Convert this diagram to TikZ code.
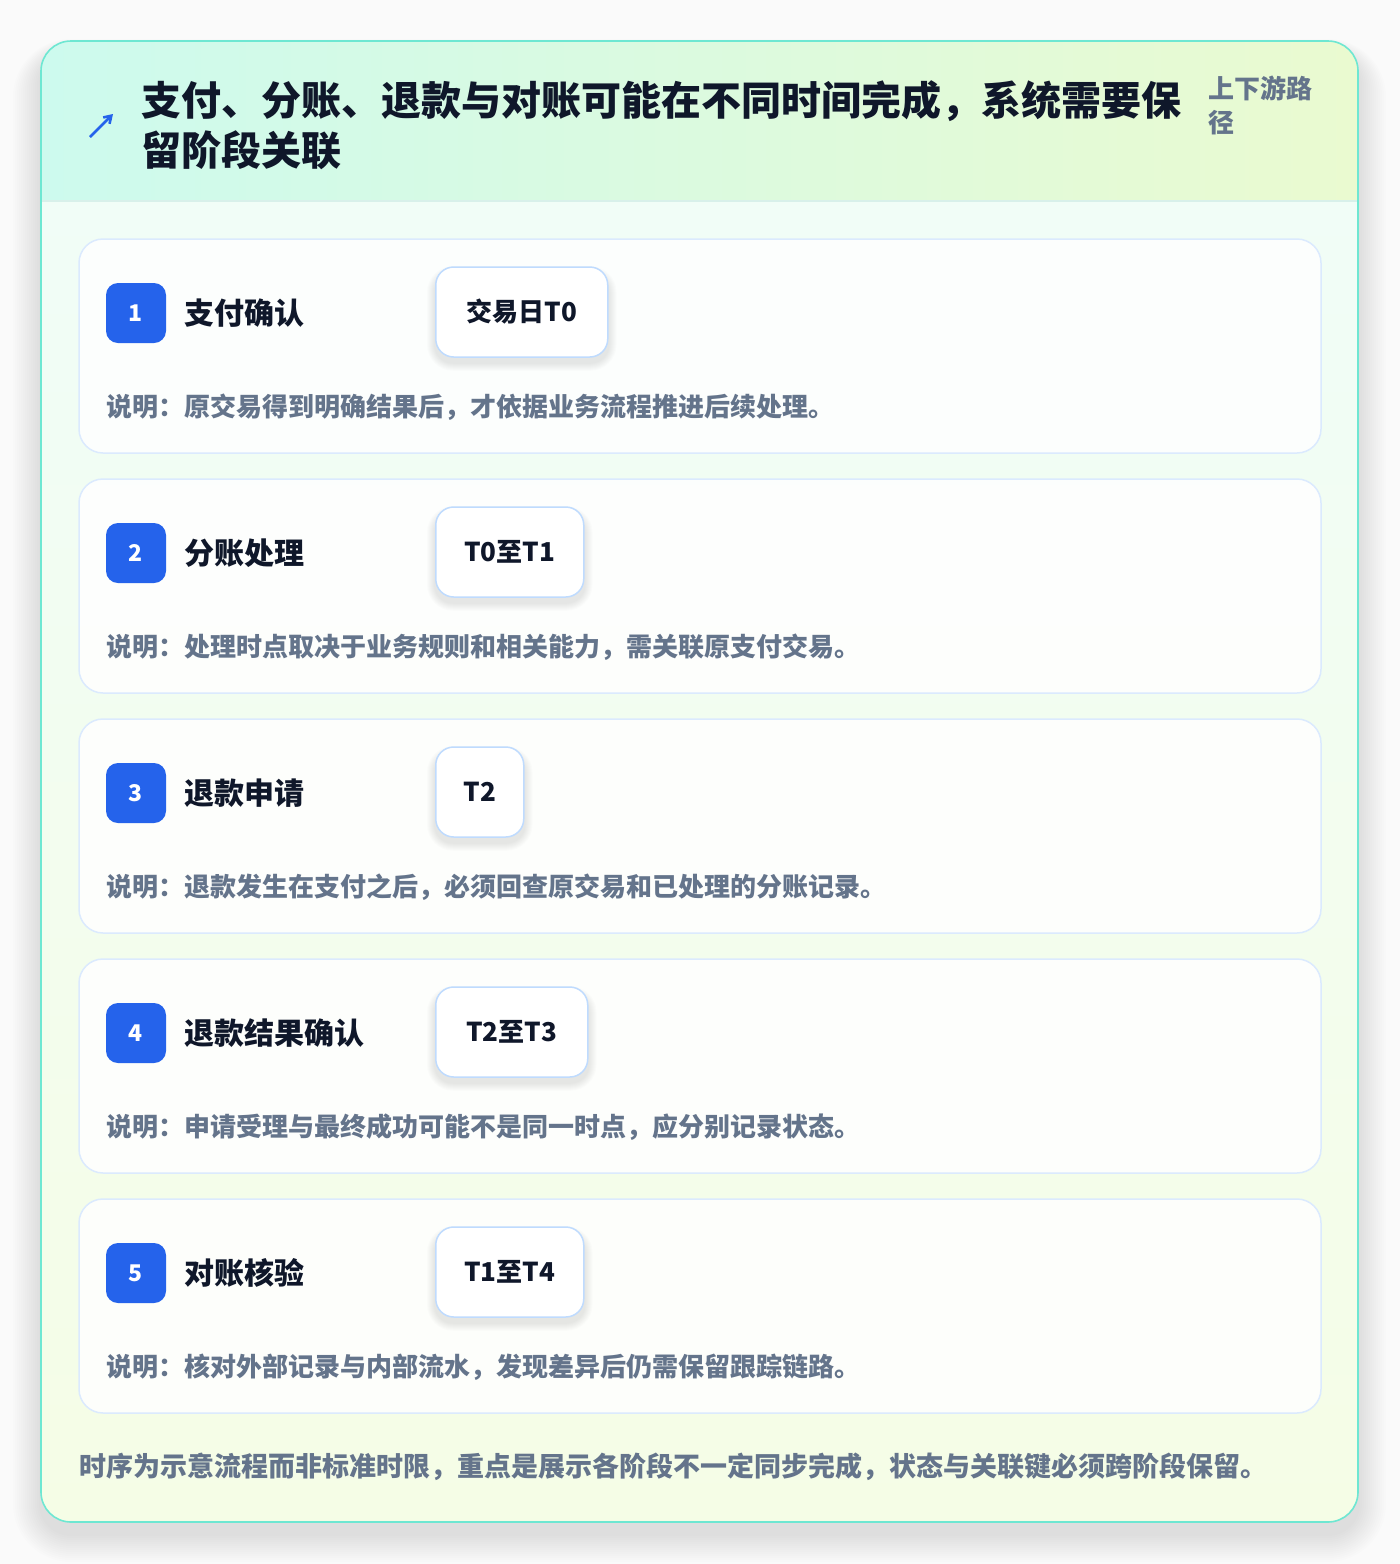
\documentclass[tikz,border=0pt]{standalone}
\usepackage{fontspec}
\setmainfont{Noto Sans CJK SC}
\usetikzlibrary{arrows.meta,calc}
\pgfdeclarelayer{front}
\pgfsetlayers{main,front}
\definecolor{pagebg}{HTML}{FAFAFA}
\definecolor{frameline}{HTML}{6EE7D2}
\definecolor{hdrL}{HTML}{CDFAEE}
\definecolor{hdrR}{HTML}{EAFAD0}
\definecolor{bodyT}{HTML}{F0FDF9}
\definecolor{bodyB}{HTML}{F5FDE6}
\definecolor{hdrsep}{HTML}{D8F0EA}
\definecolor{cardline}{HTML}{DBEAFE}
\definecolor{pillline}{HTML}{BFDBFE}
\definecolor{accent}{HTML}{2563EB}
\definecolor{ink}{HTML}{0F172A}
\definecolor{muted}{HTML}{64748B}
\tikzset{
  frame/.style={draw=frameline, line width=1.6pt, rounded corners=30pt, minimum width=1317pt, minimum height=1481pt, inner sep=0pt},
  card/.style={draw=cardline, line width=1.5pt, fill=white, fill opacity=0.85, rounded corners=24pt, minimum width=1242pt, minimum height=214pt, inner sep=0pt},
  badge/.style={fill=accent, rounded corners=12pt, minimum width=60pt, minimum height=60pt, inner sep=0pt, text=white, font=\fontsize{23}{26}\selectfont\bfseries},
  steptitle/.style={anchor=west, inner sep=0pt, text=ink, font=\fontsize{30}{36}\selectfont\bfseries},
  pill/.style={anchor=west, draw=pillline, line width=1.5pt, fill=white, rounded corners=18pt, minimum height=90pt, inner xsep=27pt, inner ysep=0pt, text=ink, font=\fontsize{26}{30}\selectfont\bfseries},
  desc/.style={anchor=west, inner sep=0pt, text=muted, font=\fontsize{26}{30}\selectfont\bfseries},
  softshadow/.style={fill=black, opacity=#1},
}
\begin{document}
\begin{tikzpicture}[x=1pt,y=-1pt]
\useasboundingbox (0,0) rectangle (1400,1564);
\fill[pagebg] (0,0) rectangle (1400,1564);
% frame shadow
\foreach \k in {1,...,14}{
  \fill[softshadow=0.007, rounded corners={(30+2*\k)*1pt}] (41-2*\k,41+12-1*\k) rectangle (1358+2*\k,1522+12+2*\k);
}
% frame fill
\shade[top color=bodyT, bottom color=bodyB, rounded corners=30pt] (41,41) rectangle (1358,1522);
\begin{scope}
  \clip[rounded corners=30pt] (41,41) rectangle (1358,1522);
  \shade[left color=hdrL, right color=hdrR] (41,41) rectangle (1358,201);
\end{scope}
\draw[hdrsep, line width=1.5pt] (41,201) -- (1358,201);
\node[frame] (frame) at (699.5,781.5) {};
% header
\coordinate (arrowS) at (90,137);
\coordinate (arrowE) at (113,114);
\draw[accent, line width=2.6pt, -{Straight Barb[length=7pt,width=9pt]}] (arrowS) -- (arrowE);
\node[anchor=north west, inner sep=0pt, align=left, text=ink, font=\fontsize{40}{50}\selectfont\bfseries] (title) at (141,80)
  {支付、分账、退款与对账可能在不同时间完成，系统需要保\\留阶段关联};
\node[anchor=north west, inner sep=0pt, align=left, text=muted, font=\fontsize{26}{34}\selectfont\bfseries] (route) at (1208,76)
  {上下游路\\径};
% cards
\foreach \i/\t/\p/\w/\d in {
  1/支付确认/交易日T0/172/说明：原交易得到明确结果后，才依据业务流程推进后续处理。,
  2/分账处理/T0至T1/148/说明：处理时点取决于业务规则和相关能力，需关联原支付交易。,
  3/退款申请/T2/88/说明：退款发生在支付之后，必须回查原交易和已处理的分账记录。,
  4/退款结果确认/T2至T3/152/说明：申请受理与最终成功可能不是同一时点，应分别记录状态。,
  5/对账核验/T1至T4/148/说明：核对外部记录与内部流水，发现差异后仍需保留跟踪链路。}{
  \pgfmathsetmacro{\top}{239+240*(\i-1)}
  \node[card] (card\i) at (700,\top+107) {};
  \node[badge] (badge\i) at (136,\top+74) {\i};
  \node[steptitle] (title\i) at (184,\top+74) {\t};
  \begin{pgfonlayer}{front}
    \node[pill, minimum width=\w pt] (pill\i) at (435,\top+73) {\p};
  \end{pgfonlayer}
  \foreach \k in {1,...,8}{
    \fill[softshadow=0.010, rounded corners={(18+\k)*1pt}] ($(pill\i.south west)+(-\k,5+\k)$) rectangle ($(pill\i.north east)+(\k,8-\k)$);
  }
  \node[desc] (desc\i) at (106,\top+168) {\d};
}
\node[anchor=west, inner sep=0pt, text=muted, font=\fontsize{27}{32}\selectfont\bfseries] (foot) at (79,1467)
  {时序为示意流程而非标准时限，重点是展示各阶段不一定同步完成，状态与关联键必须跨阶段保留。};
\end{tikzpicture}
\end{document}
